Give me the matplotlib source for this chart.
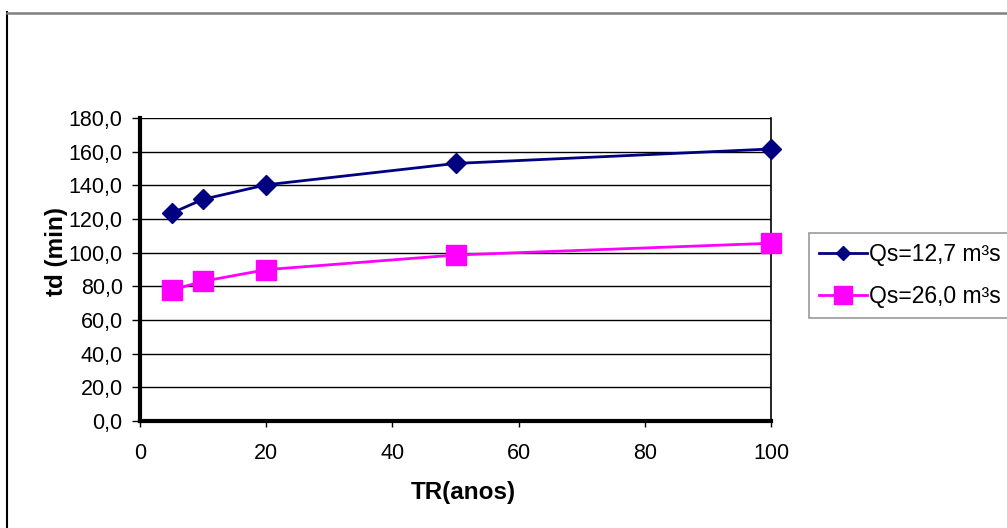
import matplotlib
matplotlib.use("Agg")
import matplotlib.pyplot as plt
from matplotlib.lines import Line2D

tr = [5, 10, 20, 50, 100]
td_q127 = [123.5, 131.7, 140.3, 153.0, 161.6]
td_q260 = [77.8, 83.0, 89.9, 98.6, 105.6]
labels = ["Qs=12,7 m³s", "Qs=26,0 m³s"]
yticks = [0, 20, 40, 60, 80, 100, 120, 140, 160, 180]
ytick_labels = ["0,0", "20,0", "40,0", "60,0", "80,0", "100,0", "120,0", "140,0", "160,0", "180,0"]
xticks = [0, 20, 40, 60, 80, 100]
xtick_labels = ["0", "20", "40", "60", "80", "100"]

plt.rcParams['font.family'] = ['Liberation Sans', 'DejaVu Sans']

W, H = 1007, 528
fig = plt.figure(figsize=(W / 100, H / 100), dpi=100)

# outer chart border
fig.add_artist(Line2D([7 / W, 7 / W], [0, 1 - 12 / H], transform=fig.transFigure,
                      color='black', lw=1.5))
fig.add_artist(Line2D([7 / W, 1006 / W], [1 - 12.5 / H, 1 - 12.5 / H], transform=fig.transFigure,
                      color='#808080', lw=1.8))

x0, x1 = 140, 771
y0, y1 = 118, 421
ax = fig.add_axes([x0 / W, 1 - y1 / H, (x1 - x0) / W, (y1 - y0) / H])

navy = '#000080'
mag = '#FF00FF'
ax.plot(tr, td_q127, color=navy, lw=2, marker='D', markersize=10,
        markerfacecolor=navy, markeredgecolor=navy, clip_on=False, zorder=4)
ax.plot(tr, td_q260, color=mag, lw=2, marker='s', markersize=14,
        markerfacecolor=mag, markeredgecolor=mag, clip_on=False, zorder=4)

ax.set_xlim(0, 100)
ax.set_ylim(0, 180)
ax.set_yticks(yticks)
ax.set_yticklabels(ytick_labels)
ax.set_xticks(xticks)
ax.set_xticklabels(xtick_labels)
ax.tick_params(axis='both', direction='out', width=1, labelsize=15.5, color='black')
ax.tick_params(axis='y', length=6, pad=6.5)
ax.tick_params(axis='x', length=4, pad=11.5)

for v in yticks[1:]:
    ax.axhline(v, color='black', lw=1, zorder=1)

ax.spines['left'].set_linewidth(3)
ax.spines['bottom'].set_linewidth(3)
ax.spines['right'].set_linewidth(1.2)
ax.spines['top'].set_visible(False)

fig.text(57 / W, 1 - 252 / H, 'td (min)', rotation=90, fontsize=17.5, fontweight='bold',
         ha='center', va='center')
fig.text(463 / W, 1 - 492 / H, 'TR(anos)', fontsize=17.5, fontweight='bold',
         ha='center', va='center')

handles = [Line2D([], [], color=navy, lw=2, marker='D', markersize=7, markerfacecolor=navy,
                  markeredgecolor=navy),
           Line2D([], [], color=mag, lw=2, marker='s', markersize=13, markerfacecolor=mag,
                  markeredgecolor=mag)]
leg = fig.legend(handles, labels, loc='upper left', bbox_to_anchor=(809 / W, 1 - 233 / H),
                 frameon=True, fancybox=False, edgecolor='#808080', fontsize=16.5,
                 handlelength=2.1, handletextpad=0.08, borderpad=0.45, labelspacing=0.8,
                 borderaxespad=0)
leg.get_frame().set_linewidth(1.2)
leg.set_zorder(10)

fig.savefig('out.png', dpi=100)
